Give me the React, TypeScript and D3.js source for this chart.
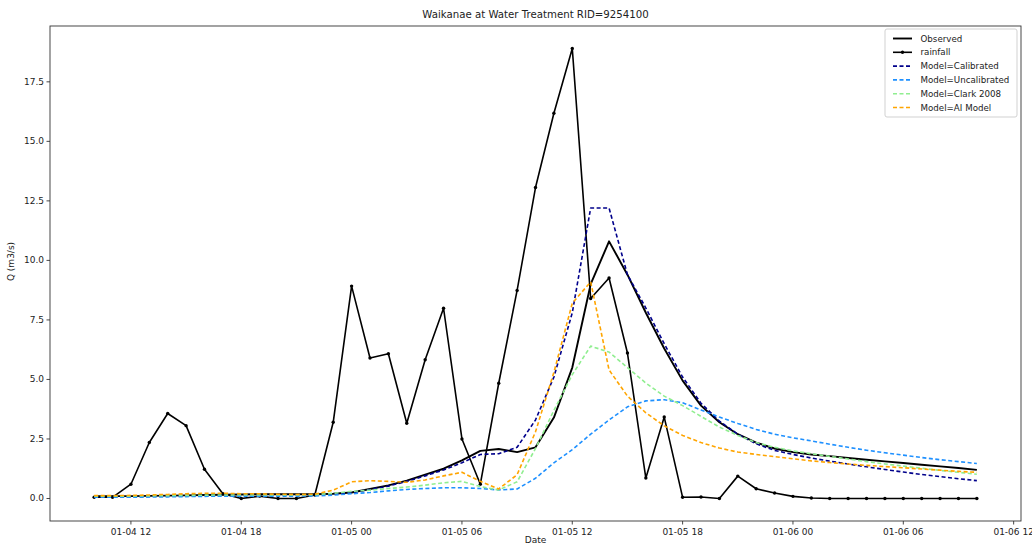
import React from "react";
import * as d3 from "d3";

// Hourly series, 01-04 10:00 to 01-06 10:00
const startTime = new Date(2024, 0, 4, 10, 0, 0);
const hours = d3.range(49);

const observed = [
  0.1, 0.1, 0.1, 0.11, 0.12, 0.13, 0.15, 0.16, 0.17, 0.18, 0.18, 0.18, 0.18,
  0.2, 0.25, 0.4, 0.55, 0.75, 1.0, 1.25, 1.6, 2.0, 2.08, 1.95, 2.15, 3.4,
  5.5, 9.0, 10.8, 9.4, 7.8, 6.3, 4.95, 3.9, 3.2, 2.7, 2.35, 2.1, 1.95, 1.85,
  1.78, 1.7, 1.63, 1.56, 1.49, 1.42, 1.35, 1.28, 1.2,
];

const rainfall = [
  0.05, 0.05, 0.6, 2.35, 3.57, 3.06, 1.23, 0.2, 0.0, 0.1, 0.0, 0.0, 0.15,
  3.2, 8.92, 5.9, 6.08, 3.16, 5.83, 7.99, 2.5, 0.6, 4.84, 8.74, 13.06, 16.18,
  18.9, 8.4, 9.26, 6.11, 0.86, 3.42, 0.05, 0.06, 0.0, 0.94, 0.41, 0.23, 0.09,
  0.02, 0, 0, 0, 0, 0, 0, 0, 0, 0,
];

const calibrated = [
  0.08, 0.08, 0.08, 0.09, 0.1, 0.11, 0.12, 0.13, 0.14, 0.15, 0.15, 0.15, 0.16,
  0.2, 0.25, 0.38, 0.52, 0.72, 0.95, 1.2, 1.5, 1.85, 1.88, 2.15, 3.3, 5.1,
  7.8, 12.2, 12.2, 9.4, 8.0, 6.5, 5.1, 4.0, 3.25, 2.7, 2.3, 2.02, 1.85, 1.7,
  1.57, 1.45, 1.33, 1.22, 1.11, 1.01, 0.92, 0.83, 0.75,
];

const uncalibrated = [
  0.05, 0.05, 0.05, 0.06, 0.07, 0.08, 0.09, 0.1, 0.1, 0.1, 0.1, 0.1, 0.11,
  0.14, 0.2, 0.25, 0.32, 0.38, 0.42, 0.45, 0.45, 0.42, 0.36, 0.4, 0.85, 1.5,
  2.05, 2.7, 3.3, 3.85, 4.1, 4.15, 4.02, 3.72, 3.42, 3.15, 2.9, 2.7, 2.55,
  2.42, 2.28, 2.15, 2.03, 1.92, 1.82, 1.72, 1.63, 1.55, 1.47,
];

const clark2008 = [
  0.1, 0.1, 0.1, 0.11, 0.12, 0.13, 0.14, 0.15, 0.15, 0.15, 0.15, 0.15, 0.16,
  0.22, 0.3, 0.35, 0.42, 0.48, 0.56, 0.66, 0.72, 0.5, 0.36, 0.7, 2.1, 3.7,
  5.2, 6.4, 6.15, 5.5, 4.85, 4.3, 3.9, 3.45, 3.0, 2.65, 2.35, 2.15, 2.0, 1.88,
  1.77, 1.66, 1.55, 1.45, 1.36, 1.27, 1.18, 1.1, 1.02,
];

const aiModel = [
  0.12, 0.12, 0.13, 0.15, 0.17, 0.2, 0.22, 0.22, 0.2, 0.2, 0.18, 0.17, 0.18,
  0.35, 0.7, 0.75, 0.72, 0.68, 0.78, 0.95, 1.1, 0.72, 0.4, 1.0, 2.8, 5.3,
  8.2, 9.1, 5.4, 4.3, 3.6, 3.05, 2.65, 2.35, 2.12, 1.95, 1.85, 1.76, 1.67,
  1.58, 1.51, 1.45, 1.39, 1.34, 1.29, 1.24, 1.19, 1.14, 1.1,
];

const yTicks = [0, 2.5, 5, 7.5, 10, 12.5, 15, 17.5];

const seriesList = [
  { name: "Observed", values: observed, color: "#000000", dash: null, width: 1.9, markers: false },
  { name: "rainfall", values: rainfall, color: "#000000", dash: null, width: 1.6, markers: true },
  { name: "Model=Calibrated", values: calibrated, color: "#00008b", dash: "4,2.5", width: 1.6, markers: false },
  { name: "Model=Uncalibrated", values: uncalibrated, color: "#1e90ff", dash: "4,2.5", width: 1.6, markers: false },
  { name: "Model=Clark 2008", values: clark2008, color: "#90ee90", dash: "4,2.5", width: 1.6, markers: false },
  { name: "Model=AI Model", values: aiModel, color: "#ffa500", dash: "4,2.5", width: 1.6, markers: false },
];

const W = 1032;
const H = 545;
const margin = { left: 50, right: 11, top: 26, bottom: 24 };
const FONT = "DejaVu Sans, sans-serif";

export default function App() {
  const times = hours.map((h) => d3.timeHour.offset(startTime, h));
  const t0 = times[0].getTime();
  const t1 = times[times.length - 1].getTime();
  const padT = (t1 - t0) * 0.05;
  const x = d3
    .scaleTime()
    .domain([new Date(t0 - padT), new Date(t1 + padT)])
    .range([margin.left, W - margin.right]);

  const allVals = seriesList.flatMap((s) => s.values);
  const [vMin, vMax] = d3.extent(allVals) as [number, number];
  const padV = (vMax - vMin) * 0.05;
  const y = d3
    .scaleLinear()
    .domain([vMin - padV, vMax + padV])
    .range([H - margin.bottom, margin.top]);

  const line = d3
    .line<number>()
    .x((_, i) => x(times[i]))
    .y((d) => y(d));

  const xTicks = d3.timeHour
    .every(6)!
    .range(new Date(t0 - padT), new Date(t1 + padT + 1));
  const fmt = d3.timeFormat("%m-%d %H");

  const x0 = margin.left;
  const x1 = W - margin.right;
  const y0 = margin.top;
  const y1 = H - margin.bottom;

  const legendX = 885;
  const legendY = 29;
  const rowH = 13.8;

  return (
    <svg
      width={W}
      height={H}
      style={{ position: "absolute", left: 0, top: 0, background: "#fff" }}
      fontFamily={FONT}
    >
      <rect x={0} y={0} width={W} height={H} fill="#ffffff" />
      <text x={(x0 + x1) / 2} y={18} textAnchor="middle" fontSize={10.2} fill="#222">
        Waikanae at Water Treatment RID=9254100
      </text>

      <defs>
        <clipPath id="plotClip">
          <rect x={x0} y={y0} width={x1 - x0} height={y1 - y0} />
        </clipPath>
      </defs>

      <g clipPath="url(#plotClip)">
        {seriesList.map((s) => (
          <g key={s.name}>
            <path
              d={line(s.values) || ""}
              fill="none"
              stroke={s.color}
              strokeWidth={s.width}
              strokeDasharray={s.dash || undefined}
              strokeLinejoin="round"
            />
            {s.markers &&
              s.values.map((v, i) => (
                <circle key={i} cx={x(times[i])} cy={y(v)} r={1.7} fill={s.color} />
              ))}
          </g>
        ))}
      </g>

      {/* axes frame */}
      <rect x={x0} y={y0} width={x1 - x0} height={y1 - y0} fill="none" stroke="#333" strokeWidth={0.9} />

      {/* x axis */}
      {xTicks.map((t) => (
        <g key={t.getTime()} transform={`translate(${x(t)},${y1})`}>
          <line y1={0} y2={3.5} stroke="#333" strokeWidth={0.9} />
          <text y={14} textAnchor="middle" fontSize={9} fill="#222">
            {fmt(t)}
          </text>
        </g>
      ))}
      <text x={(x0 + x1) / 2} y={543} textAnchor="middle" fontSize={9} fill="#222">
        Date
      </text>

      {/* y axis */}
      {yTicks.map((v) => (
        <g key={v} transform={`translate(${x0},${y(v)})`}>
          <line x1={-3.5} x2={0} stroke="#333" strokeWidth={0.9} />
          <text x={-6} dy="0.32em" textAnchor="end" fontSize={9} fill="#222">
            {v.toFixed(1)}
          </text>
        </g>
      ))}
      <text
        transform={`translate(14,${(y0 + y1) / 2 - 12}) rotate(-90)`}
        textAnchor="middle"
        fontSize={9}
        fill="#222"
      >
        Q (m3/s)
      </text>

      {/* legend */}
      <rect
        x={legendX}
        y={legendY}
        width={132}
        height={88}
        rx={2}
        fill="#ffffff"
        fillOpacity={0.8}
        stroke="#cccccc"
        strokeWidth={0.9}
      />
      {seriesList.map((s, i) => {
        const cy = legendY + 9.5 + i * rowH;
        return (
          <g key={s.name}>
            <line
              x1={legendX + 8}
              x2={legendX + 27}
              y1={cy}
              y2={cy}
              stroke={s.color}
              strokeWidth={s.width}
              strokeDasharray={s.dash || undefined}
            />
            {s.markers && <circle cx={legendX + 17.5} cy={cy} r={1.7} fill={s.color} />}
            <text x={legendX + 35.5} y={cy} dy="0.35em" fontSize={8.7} fill="#222">
              {s.name}
            </text>
          </g>
        );
      })}
    </svg>
  );
}
